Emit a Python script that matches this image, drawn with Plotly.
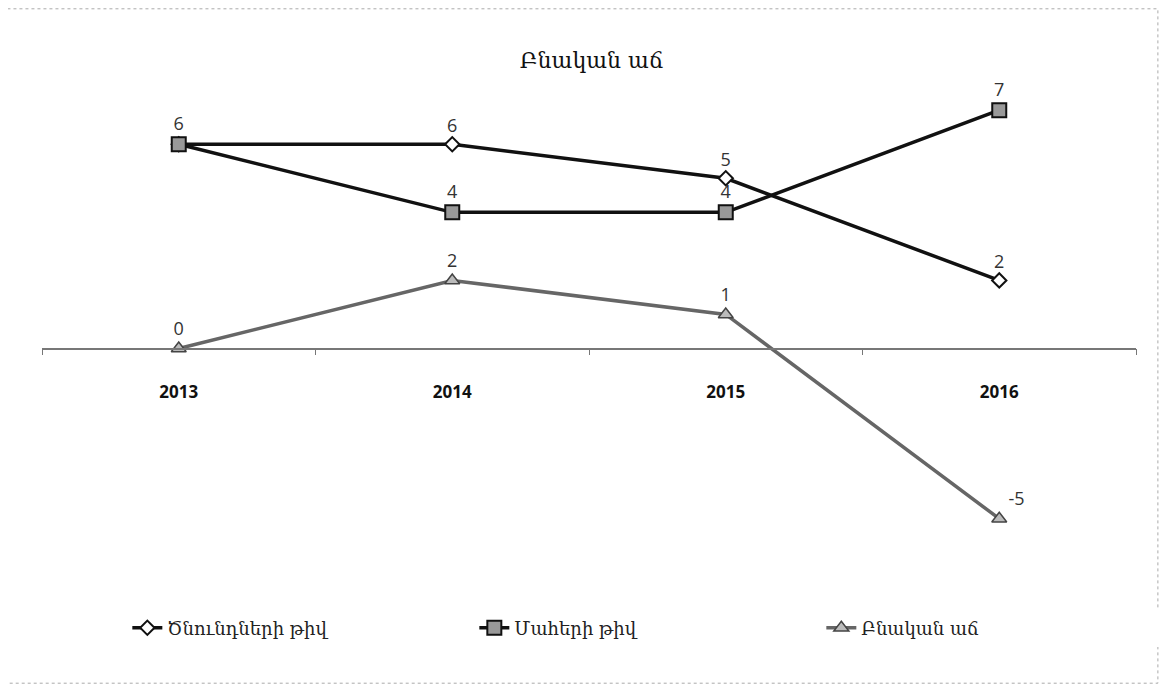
import plotly.graph_objects as go

tariner = ['2013', '2014', '2015', '2016']
cnundner = [6, 6, 5, 2]
maher = [6, 4, 4, 7]
bnakan_ac = [0, 2, 1, -5]

anun_cn = 'Ծնունդների թիվ'
anun_mah = 'Մահերի թիվ'
anun_ac = 'Բնական աճ'

tar_font = dict(family='Open Sans, DejaVu Sans', size=18, color='#333')

fig = go.Figure()

# 2013-ի պիտակը ծնունդների համար չի երևում (համընկնում է մահերի 6-ի հետ)
fig.add_trace(go.Scatter(x=tariner, y=cnundner, name=anun_cn,
                         mode='lines+markers+text',
                         text=[''] + [str(v) for v in cnundner[1:]],
                         textposition='top center',
                         textfont=tar_font, cliponaxis=False,
                         line=dict(color='#111', width=3.5),
                         marker=dict(symbol='diamond', size=11, color='white',
                                     line=dict(color='#111', width=2))))

fig.add_trace(go.Scatter(x=tariner, y=maher, name=anun_mah,
                         mode='lines+markers+text',
                         text=[str(v) for v in maher],
                         textposition='top center',
                         textfont=tar_font, cliponaxis=False,
                         line=dict(color='#111', width=3.5),
                         marker=dict(symbol='square', size=14, color='#999',
                                     line=dict(color='#111', width=2))))

fig.add_trace(go.Scatter(x=tariner, y=bnakan_ac, name=anun_ac,
                         mode='lines+markers+text',
                         text=[str(v) for v in bnakan_ac],
                         textposition=['top center', 'top center', 'top center', 'top right'],
                         textfont=tar_font, cliponaxis=False,
                         line=dict(color='#666', width=3.5),
                         marker=dict(symbol='triangle-up', size=13, color='#bbb',
                                     line=dict(color='#444', width=1.5))))

ymin, ymax = -6.8, 7.3

fig.update_layout(
    width=1167, height=687,
    paper_bgcolor='white', plot_bgcolor='white',
    margin=dict(l=34, r=39, t=92, b=115, autoexpand=False),
    title=dict(text=anun_ac, x=0.5, xanchor='center', y=0.924, yanchor='middle',
               font=dict(family='DejaVu Serif', size=22, color='#111')),
    showlegend=True,
    legend=dict(orientation='h', x=0.078, xanchor='left', y=-0.1, yanchor='middle',
                entrywidth=302, font=dict(family='DejaVu Serif', size=18, color='#222')),
    xaxis=dict(type='category', range=[-0.5, 3.5], anchor='free',
               position=-ymin / (ymax - ymin),
               showline=True, linecolor='#777', linewidth=1.5,
               ticks='outside', tickson='boundaries', ticklen=6, tickcolor='#777',
               ticklabelstandoff=28, showgrid=False, zeroline=False,
               tickfont=dict(family='Open Sans, DejaVu Sans', size=17, color='#111', weight='bold')),
    yaxis=dict(range=[ymin, ymax], visible=False, showgrid=False, zeroline=False),
)

fig.add_shape(type='rect', xref='paper', yref='paper',
              x0=-0.035, x1=1.02, y0=-0.215, y1=1.19,
              line=dict(color='#aaa', width=1, dash='dot'))

fig.write_html('out.html')
